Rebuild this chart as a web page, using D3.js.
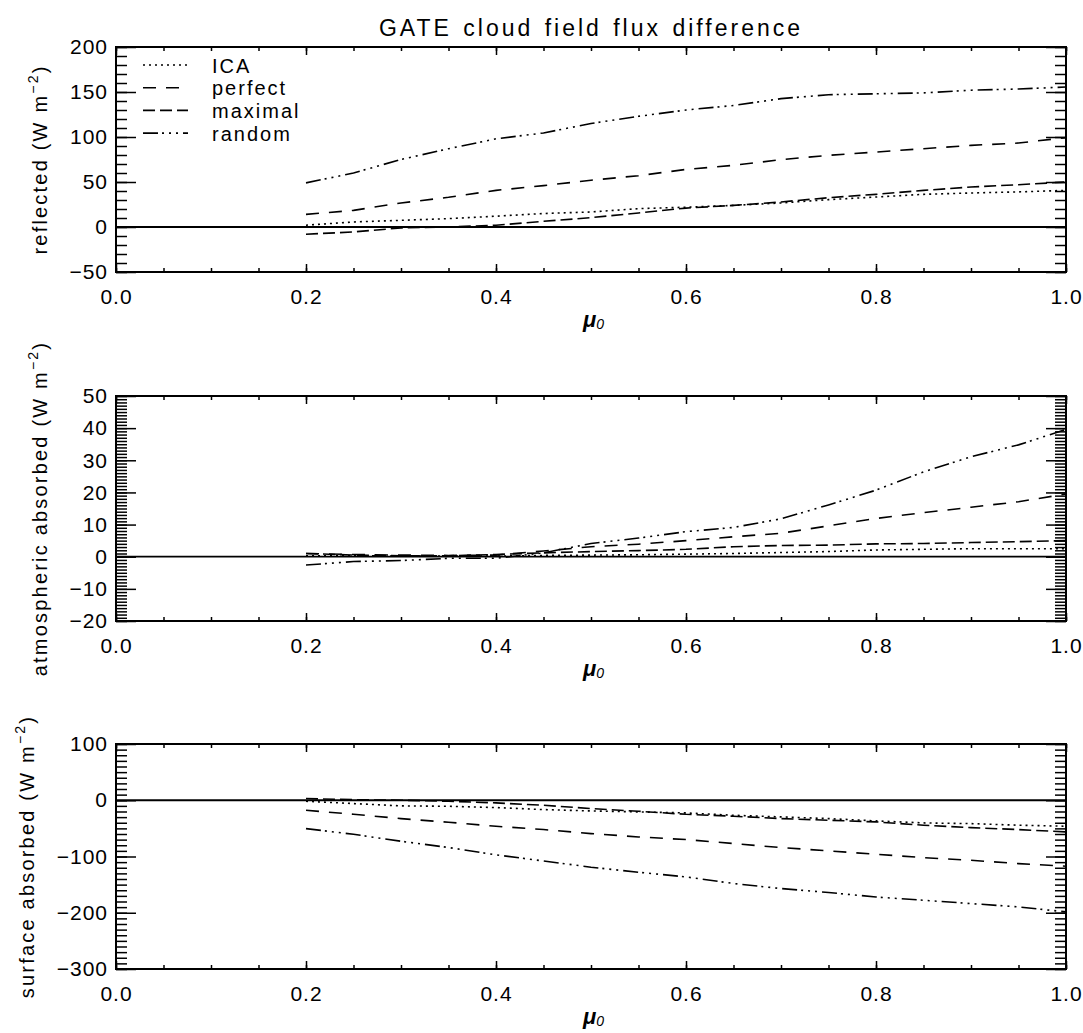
<!DOCTYPE html>
<html>
<head>
<meta charset="utf-8">
<script src="https://cdn.jsdelivr.net/npm/d3@7"></script>
<style>
  body { margin: 0; background: #fff; }
  text { font-family: "Liberation Sans", Arial, sans-serif; fill: #000; }
</style>
</head>
<body>
<div id="chart"></div>
<script>
"use strict"

// cosine of solar zenith angle
const mu = [0.20, 0.25, 0.30, 0.35, 0.40, 0.45, 0.50, 0.55, 0.60, 0.65, 0.70, 0.75, 0.80, 0.85, 0.90, 0.95, 1.00];

const seriesNames = ["ICA", "perfect", "maximal", "random"];

// reflected flux difference (W m-2)
const reflectedICA     = [2, 5.6, 7.4, 9.3, 12, 15, 16.7, 20.4, 22, 24, 26.7, 30.4, 33.3, 36.3, 37.8, 39, 40.7];
const reflectedPerfect = [14, 18.5, 26.7, 33, 40.7, 46, 52, 57, 64, 68.5, 74.8, 79.6, 83.3, 87, 90.7, 93.3, 99.3];
const reflectedMaximal = [-8, -5.5, -1, 0, 2, 6.3, 10.4, 15.6, 21, 24, 27.8, 32.6, 36.3, 40.7, 44.4, 47, 50];
const reflectedRandom  = [49, 60, 75, 87, 98, 104.5, 115, 123, 130, 135, 142.6, 147, 148, 149, 152, 153.3, 155.6];

// atmospheric absorbed flux difference (W m-2)
const atmosICA     = [0.3, 0.3, 0.2, 0.2, 0.2, 0.4, 0.5, 0.6, 0.8, 1.0, 1.3, 1.6, 2.1, 2.3, 2.5, 2.5, 2.5];
const atmosPerfect = [1.0, 0.7, 0.5, 0.4, 0.5, 1.8, 3.1, 3.9, 5.0, 6.2, 7.3, 9.6, 11.9, 13.7, 15.4, 17.1, 19.5];
const atmosMaximal = [1.0, 0.5, 0.3, 0.3, 0.7, 1.2, 1.6, 1.9, 2.3, 3.1, 3.5, 3.6, 4.0, 4.1, 4.4, 4.7, 5.0];
const atmosRandom  = [-2.6, -1.5, -1.2, -0.5, -0.5, 1.2, 4.1, 5.8, 7.8, 9.1, 11.8, 16.1, 20.7, 26.4, 31.1, 34.8, 39.6];

// surface absorbed flux difference (W m-2)
const surfaceICA     = [-1.8, -5.9, -10, -10.7, -13, -16.6, -19, -20.7, -22.5, -26.7, -29.6, -32.6, -36.7, -40.3, -41.5, -44.4, -46.2];
const surfacePerfect = [-17.8, -24.9, -32.6, -39.1, -46.2, -52.1, -59.3, -65.2, -69.9, -77, -84.1, -90, -96, -102, -106.7, -112.6, -117.3];
const surfaceMaximal = [3, 1, 0, -1.8, -4.7, -8.9, -14.8, -19.6, -25, -28.4, -32.6, -35.6, -38.5, -44.4, -48.6, -52.1, -56.3];
const surfaceRandom  = [-50.4, -60.5, -72.9, -84, -97, -108, -119, -128, -136.3, -148, -157, -164, -172, -177.8, -183.7, -189.6, -198.5];

const xTickLabels = [0.0, 0.2, 0.4, 0.6, 0.8, 1.0];

const dashBySeries = new Map([
  ["ICA", "2,4"],
  ["perfect", "13,10"],
  ["maximal", "12,5"],
  ["random", "15,4,2,5,2,5,2,5"]
]);

const panels = [
  { label: "reflected", domain: [-50, 200], major: 50, minor: 10, top: 47, labelX: 47,
    series: [reflectedICA, reflectedPerfect, reflectedMaximal, reflectedRandom], legend: true },
  { label: "atmospheric absorbed", domain: [-20, 50], major: 10, minor: 1, top: 396, labelX: 47,
    series: [atmosICA, atmosPerfect, atmosMaximal, atmosRandom] },
  { label: "surface absorbed", domain: [-300, 100], major: 100, minor: 10, top: 744, labelX: 34,
    series: [surfaceICA, surfacePerfect, surfaceMaximal, surfaceRandom] }
];

let width = 1083, height = 1033;
let plotLeft = 116, plotRight = 1066, plotHeight = 225;

let svg = d3.select("#chart")
            .append("svg")
            .attr("width", width)
            .attr("height", height)
            .style("background", "#fff");

let x = d3.scaleLinear()
          .domain([0, 1])
          .range([plotLeft, plotRight]);

svg.append("text")
   .attr("x", (plotLeft + plotRight) / 2)
   .attr("y", 36)
   .attr("text-anchor", "middle")
   .style("font-size", "23px")
   .style("letter-spacing", "3px")
   .style("word-spacing", "2px")
   .text("GATE cloud field flux difference");

panels.forEach(drawPanel);

function range(start, stop, step) {
  let n = Math.round((stop - start) / step);
  return Array.from({length: n + 1}, (d, i) => +(start + i * step).toFixed(6));
}

function styleAxis(g) {
  g.select(".domain").remove();
  g.selectAll(".tick line").attr("stroke", "#000").attr("stroke-width", 1.5);
  g.selectAll("text")
   .attr("fill", "#000")
   .style("font-size", "21px")
   .style("letter-spacing", "1px");
}

function drawPanel(p) {
  let top = p.top, bottom = p.top + plotHeight;
  let y = d3.scaleLinear()
            .domain(p.domain)
            .range([bottom, top]);

  let majorY = range(p.domain[0], p.domain[1], p.major);
  let minorY = range(p.domain[0], p.domain[1], p.minor);
  let majorX = range(0, 1, 0.2);
  let minorX = range(0, 1, 0.05);

  let g = svg.append("g");

  // left axis
  g.append("g")
   .attr("transform", "translate(" + plotLeft + ",0)")
   .call(d3.axisLeft(y).tickValues(minorY).tickSize(-11).tickFormat(""))
   .call(styleAxis);
  g.append("g")
   .attr("transform", "translate(" + plotLeft + ",0)")
   .call(d3.axisLeft(y).tickValues(majorY).tickSize(-20).tickPadding(8).tickFormat(d3.format("d")))
   .call(styleAxis);

  // right axis
  g.append("g")
   .attr("transform", "translate(" + plotRight + ",0)")
   .call(d3.axisRight(y).tickValues(minorY).tickSize(-11).tickFormat(""))
   .call(styleAxis);
  g.append("g")
   .attr("transform", "translate(" + plotRight + ",0)")
   .call(d3.axisRight(y).tickValues(majorY).tickSize(-20).tickFormat(""))
   .call(styleAxis);

  // bottom axis
  g.append("g")
   .attr("transform", "translate(0," + bottom + ")")
   .call(d3.axisBottom(x).tickValues(minorX).tickSize(-4).tickFormat(""))
   .call(styleAxis);
  g.append("g")
   .attr("transform", "translate(0," + bottom + ")")
   .call(d3.axisBottom(x).tickValues(xTickLabels).tickSize(-8).tickPadding(17).tickFormat(d3.format(".1f")))
   .call(styleAxis);

  // top axis
  g.append("g")
   .attr("transform", "translate(0," + top + ")")
   .call(d3.axisTop(x).tickValues(minorX).tickSize(-4).tickFormat(""))
   .call(styleAxis);
  g.append("g")
   .attr("transform", "translate(0," + top + ")")
   .call(d3.axisTop(x).tickValues(majorX).tickSize(-8).tickFormat(""))
   .call(styleAxis);

  // frame
  g.append("rect")
   .attr("x", plotLeft)
   .attr("y", top)
   .attr("width", plotRight - plotLeft)
   .attr("height", plotHeight)
   .attr("fill", "none")
   .attr("stroke", "#000")
   .attr("stroke-width", 2);

  // zero line
  g.append("line")
   .attr("x1", plotLeft)
   .attr("x2", plotRight)
   .attr("y1", y(0))
   .attr("y2", y(0))
   .attr("stroke", "#000")
   .attr("stroke-width", 1.8);

  let line = d3.line()
               .x((d, i) => x(mu[i]))
               .y(d => y(d));

  p.series.forEach((values, k) => {
    g.append("path")
     .datum(values)
     .attr("d", line)
     .attr("fill", "none")
     .attr("stroke", "#000")
     .attr("stroke-width", 1.6)
     .attr("stroke-dasharray", dashBySeries.get(seriesNames[k]));
  });

  // y title
  let yTitle = g.append("text")
                .attr("transform", "translate(" + p.labelX + "," + (top + plotHeight / 2) + ") rotate(-90)")
                .attr("text-anchor", "middle")
                .style("font-size", "20px")
                .style("letter-spacing", "2.2px");
  yTitle.append("tspan").text(p.label + " (W m");
  yTitle.append("tspan").attr("dy", -9).style("font-size", "14px").text("\u22122");
  yTitle.append("tspan").attr("dy", 9).text(")");

  // x title
  let xTitle = g.append("text")
                .attr("x", (plotLeft + plotRight) / 2 - 8)
                .attr("y", bottom + 55)
                .style("font-size", "22px")
                .style("font-weight", "bold")
                .style("font-style", "italic");
  xTitle.append("tspan").text("\u03bc");
  xTitle.append("tspan").attr("dy", 2).style("font-size", "14px").style("font-weight", "normal").text("0");

  if (p.legend) {
    let legend = g.append("g")
                  .selectAll("g")
                  .data(seriesNames)
                  .enter()
                  .append("g")
                  .attr("transform", (d, i) => "translate(143," + (65 + i * 22.7) + ")");
    legend.append("line")
          .attr("x1", 0)
          .attr("x2", 45)
          .attr("stroke", "#000")
          .attr("stroke-width", 1.6)
          .attr("stroke-dasharray", d => dashBySeries.get(d));
    legend.append("text")
          .attr("x", 69)
          .attr("y", 7.5)
          .style("font-size", "20px")
          .style("letter-spacing", "2px")
          .text(d => d);
  }
}
</script>
</body>
</html>
